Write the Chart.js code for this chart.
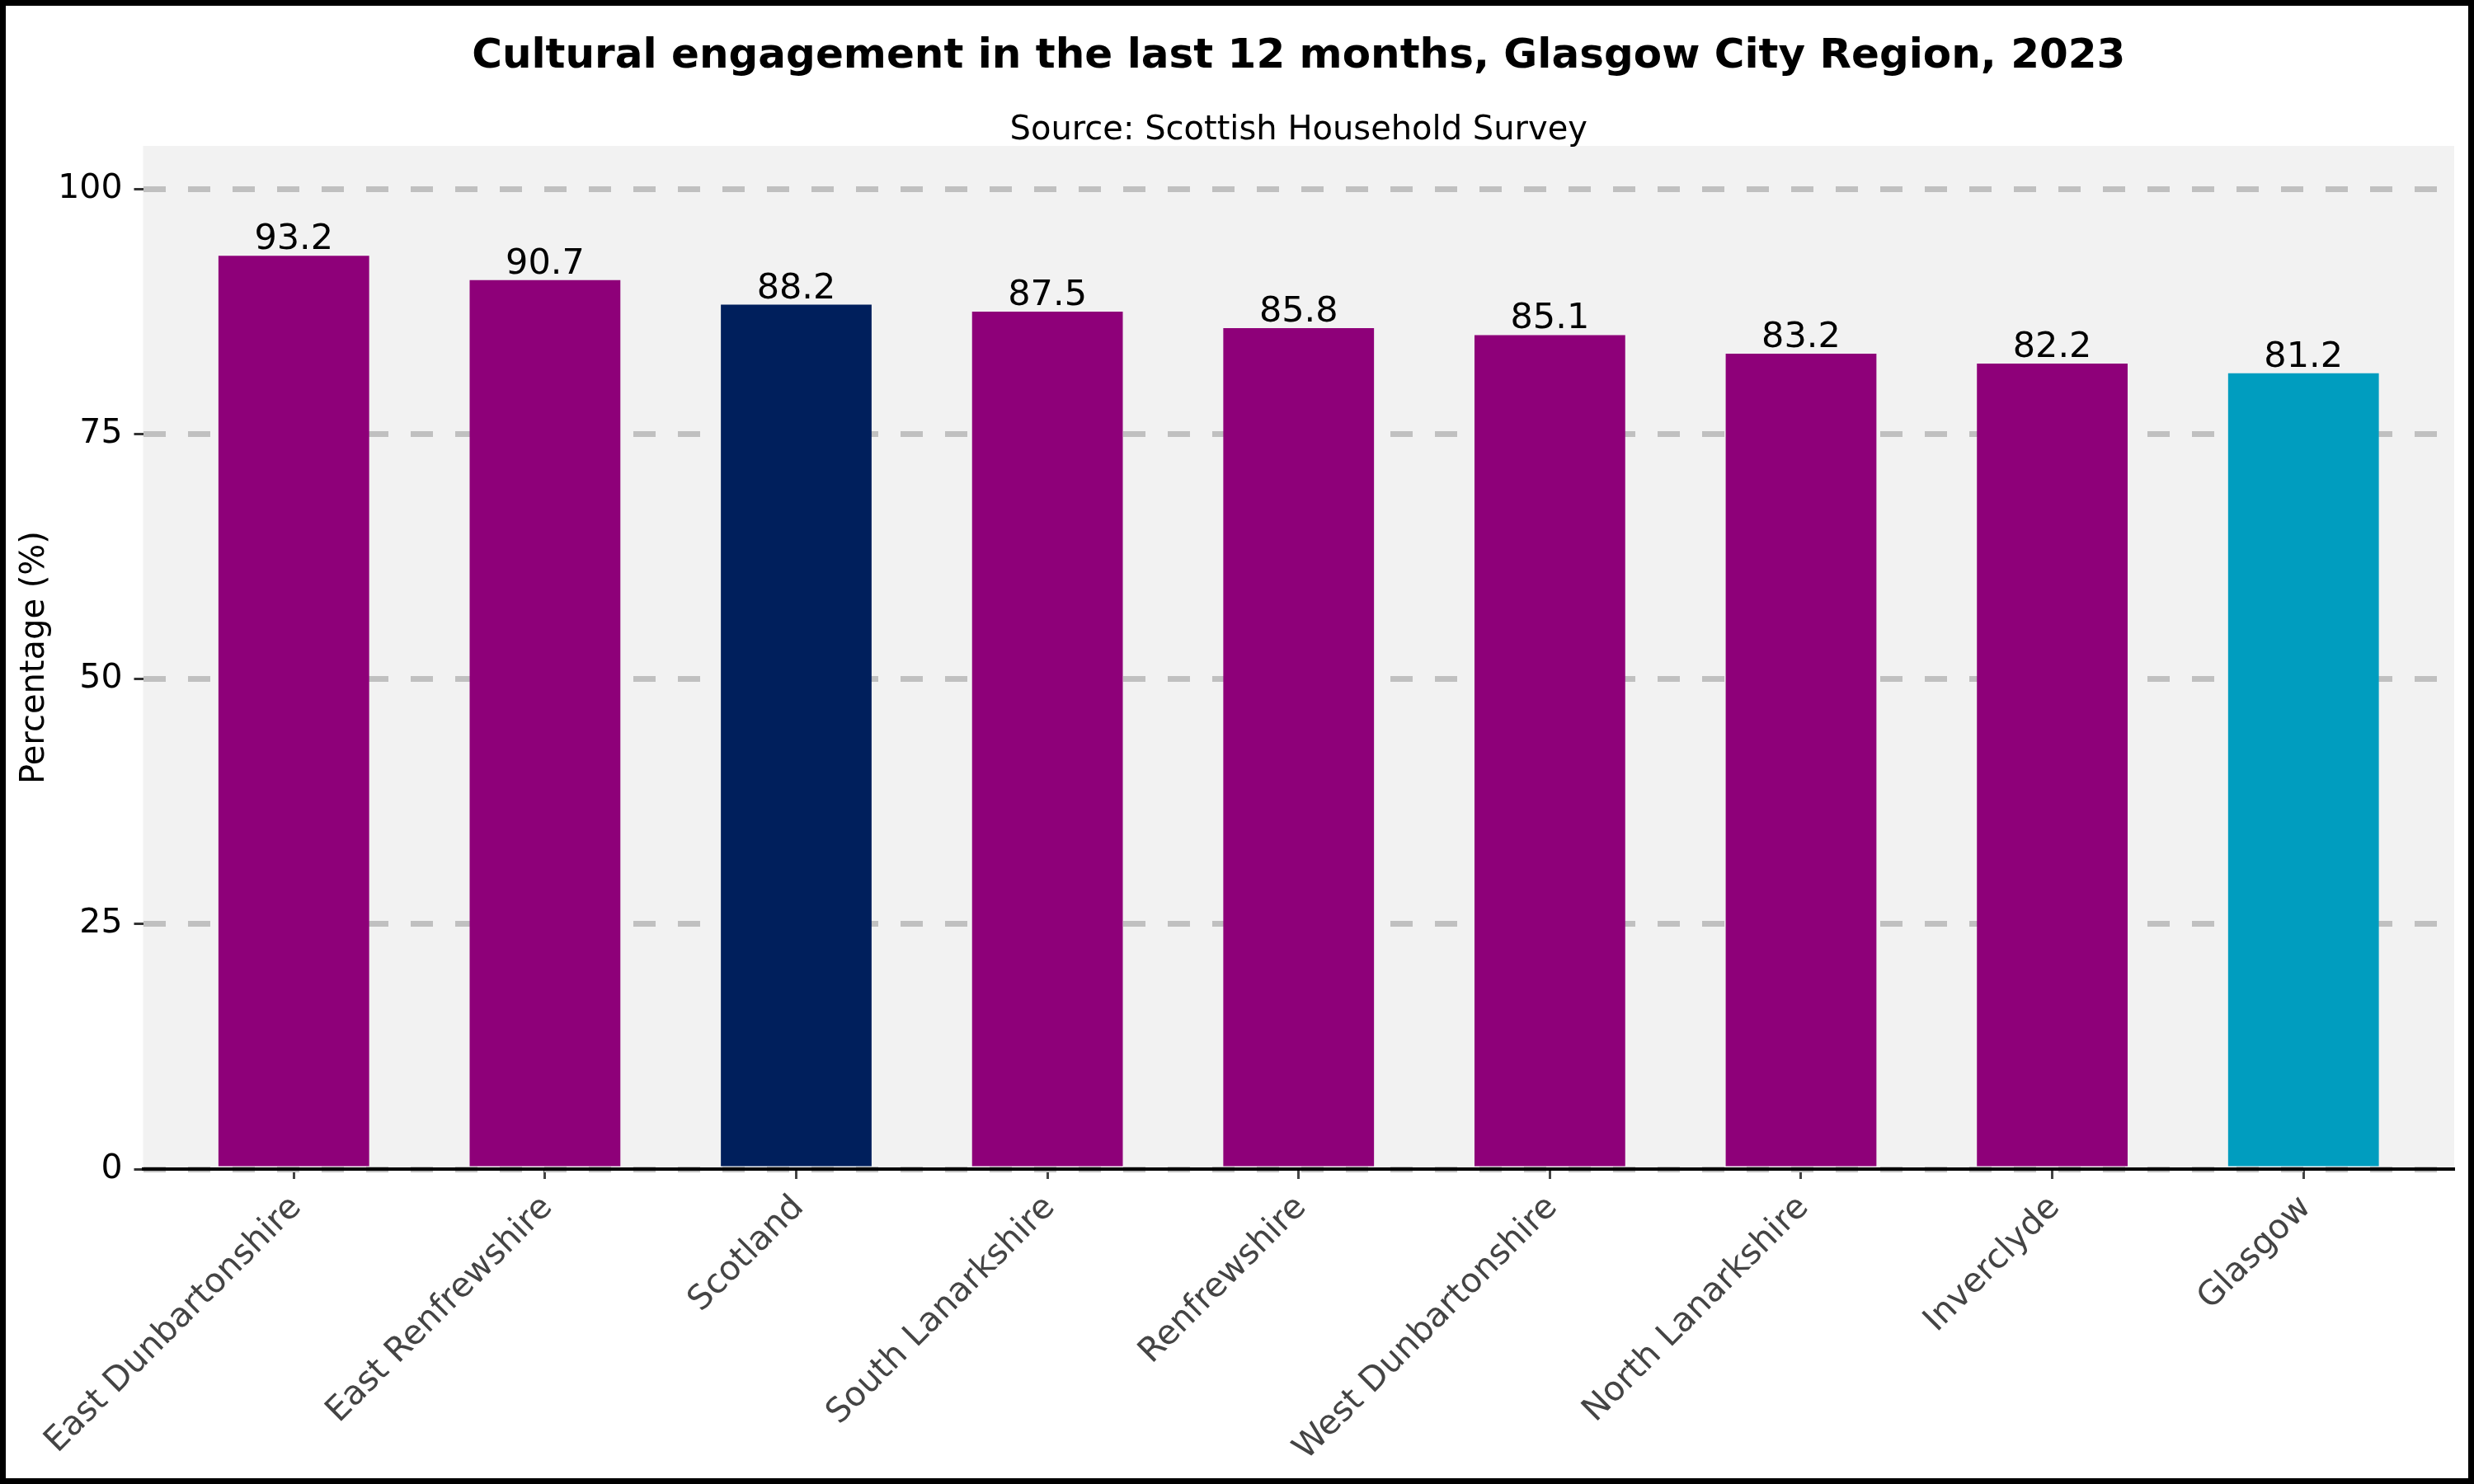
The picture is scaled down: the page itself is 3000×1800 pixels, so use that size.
<!DOCTYPE html>
<html>
<head>
<meta charset="utf-8">
<script src="https://cdn.jsdelivr.net/npm/chart.js@4"></script>
<style>
  body { margin: 0; background: #fff; }
  canvas { display: block; }
</style>
</head>
<body>
<canvas id="barChart" width="3000" height="1800"></canvas>
<script>
// data
const categories = [
  "East Dunbartonshire", "East Renfrewshire", "Scotland", "South Lanarkshire",
  "Renfrewshire", "West Dunbartonshire", "North Lanarkshire", "Inverclyde", "Glasgow"
];
const engagement = [93.2, 90.7, 88.2, 87.5, 85.8, 85.1, 83.2, 82.2, 81.2];
const yTicks = [0, 25, 50, 75, 100];

const PURPLE = "#8e0079";
const NAVY = "#001f5c";
const TEAL = "#009dbf";

function barColour(name) {
  if (name === "Scotland") return NAVY;
  if (name === "Glasgow") return TEAL;
  return PURPLE;
}

Chart.defaults.font.family = "'DejaVu Sans', sans-serif";
Chart.defaults.color = "#000";

const plotBackground = {
  id: "plotBackground",
  beforeDraw(chart) {
    const { ctx, chartArea: a } = chart;
    ctx.save();
    ctx.fillStyle = "#f2f2f2";
    ctx.fillRect(a.left, a.top, a.right - a.left, a.bottom - a.top);
    ctx.restore();
  }
};

const valueLabels = {
  id: "valueLabels",
  afterDatasetsDraw(chart) {
    const { ctx } = chart;
    const meta = chart.getDatasetMeta(0);
    ctx.save();
    ctx.font = "43px 'DejaVu Sans'";
    ctx.fillStyle = "#000";
    ctx.textAlign = "center";
    ctx.textBaseline = "alphabetic";
    meta.data.forEach((bar, i) => {
      ctx.fillText(engagement[i].toFixed(1), bar.x, bar.y - 8);
    });
    ctx.restore();
  }
};

const frame = {
  id: "frame",
  afterDraw(chart) {
    const { ctx, width, height } = chart;
    ctx.save();
    ctx.strokeStyle = "#000";
    ctx.lineWidth = 7;
    ctx.strokeRect(3.5, 3.5, width - 7, height - 7);
    ctx.restore();
  }
};

window.chart = new Chart(document.getElementById("barChart"), {
  type: "bar",
  data: {
    datasets: [
      {
        label: "Cultural engagement",
        data: categories.map((c, i) => ({ x: i, y: engagement[i] })),
        backgroundColor: categories.map(barColour),
        borderWidth: 0,
        categoryPercentage: 1,
        barPercentage: 0.6,
      },
    ],
  },
  options: {
    responsive: false,
    devicePixelRatio: 1,
    animation: false,
    layout: { padding: { left: 0, right: 24, top: 0, bottom: 0 } },
    plugins: {
      legend: { display: false },
      tooltip: { enabled: false },
      title: {
        display: true,
        text: "Cultural engagement in the last 12 months, Glasgow City Region, 2023",
        fullSize: false,
        color: "#000",
        font: { size: 50, weight: "bold", lineHeight: 1.0 },
        padding: { top: 44, bottom: 0 },
      },
      subtitle: {
        display: true,
        text: "Source: Scottish Household Survey",
        fullSize: false,
        color: "#000",
        font: { size: 40, lineHeight: 0.9 },
        padding: { top: 47, bottom: 0 },
      },
    },
    scales: {
      x: {
        type: "linear",
        min: -0.6,
        max: 8.6,
        offset: false,
        afterBuildTicks: (axis) => {
          axis.ticks = categories.map((c, i) => ({ value: i }));
        },
        afterFit: (scale) => { scale.height = 382; },
        border: { display: true, color: "#000", width: 4 },
        grid: {
          offset: false,
          drawOnChartArea: false,
          drawTicks: true,
          tickLength: 12,
          tickColor: "#444",
          tickWidth: 3,
        },
        ticks: {
          autoSkip: false,
          minRotation: 45,
          maxRotation: 45,
          padding: 11,
          labelOffset: 3,
          color: "#444",
          font: { size: 41 },
          callback: (value) => categories[value],
        },
      },
      y: {
        min: 0,
        max: 104.4,
        afterBuildTicks: (axis) => {
          axis.ticks = yTicks.map((v) => ({ value: v }));
        },
        afterFit: (scale) => { scale.width = 173.5; },
        border: { display: false, dash: [27, 27] },
        grid: {
          color: "#c0c0c0",
          lineWidth: 7,
          drawTicks: true,
          tickLength: 11,
          tickColor: "#333",
          tickWidth: 3,
          tickBorderDash: [],
        },
        ticks: {
          padding: 14,
          color: "#000",
          font: { size: 41 },
        },
        title: {
          display: true,
          text: "Percentage (%)",
          color: "#000",
          font: { size: 40 },
          padding: { top: 19, bottom: 0 },
        },
      },
    },
  },
  plugins: [plotBackground, valueLabels, frame],
});
</script>
</body>
</html>
